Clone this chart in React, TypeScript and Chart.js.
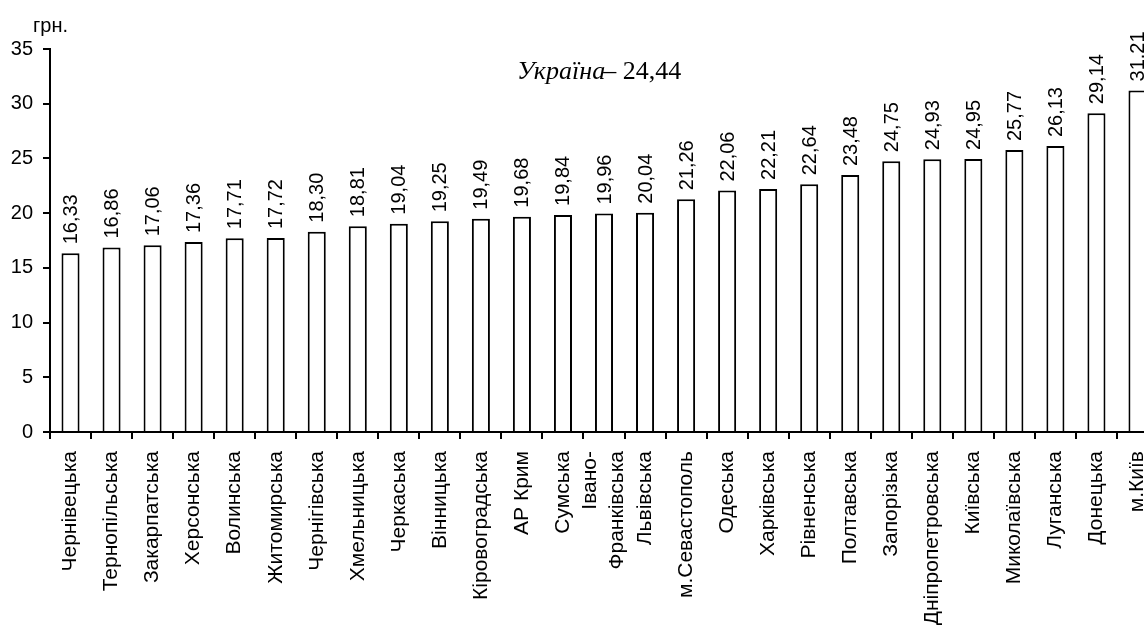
import React, { useEffect, useRef } from "react";
import { Chart, registerables } from "chart.js";

Chart.register(...registerables);

const categories: (string | string[])[] = [
  "Чернівецька", "Тернопільська", "Закарпатська", "Херсонська", "Волинська",
  "Житомирська", "Чернігівська", "Хмельницька", "Черкаська", "Вінницька",
  "Кіровоградська", "АР Крим", "Сумська", ["Івано-", "Франківська"], "Львівська",
  "м.Севастополь", "Одеська", "Харківська", "Рівненська", "Полтавська",
  "Запорізька", "Дніпропетровська", "Київська", "Миколаївська", "Луганська",
  "Донецька", "м.Київ",
];

const values: number[] = [
  16.33, 16.86, 17.06, 17.36, 17.71, 17.72, 18.30, 18.81, 19.04, 19.25,
  19.49, 19.68, 19.84, 19.96, 20.04, 21.26, 22.06, 22.21, 22.64, 23.48,
  24.75, 24.93, 24.95, 25.77, 26.13, 29.14, 31.21,
];

const unitLabel = "грн.";
const countryLabel = "Україна";
const countryValue = "– 24,44";

const FONT = "'Liberation Sans', Arial, sans-serif";
const SERIF = "'Liberation Serif', 'Times New Roman', serif";
const X_FONT_SIZE = 21;
const X_LINE_HEIGHT = 1.3;

const fmt = (v: number) => v.toFixed(2).replace(".", ",");

const centerMultilinePlugin = {
  id: "centerMultiline",
  beforeDraw(chart: any) {
    const scale = chart.scales.x;
    if (!scale) return;
    const items = scale.getLabelItems(chart.chartArea);
    const lh = X_FONT_SIZE * X_LINE_HEIGHT;
    items.forEach((item: any) => {
      if (Array.isArray(item.label) && !item._centered) {
        item.options.translation[0] -= (lh * (item.label.length - 1)) / 2;
        item._centered = true;
      }
    });
  },
};

const annotatePlugin = {
  id: "annotate",
  afterDatasetsDraw(chart: any) {
    const ctx = chart.ctx as CanvasRenderingContext2D;
    const meta = chart.getDatasetMeta(0);
    ctx.save();
    ctx.fillStyle = "#000";
    ctx.font = `20px ${FONT}`;
    ctx.textAlign = "left";
    ctx.textBaseline = "middle";
    meta.data.forEach((bar: any, i: number) => {
      ctx.save();
      ctx.translate(bar.x + 1, bar.y - 9);
      ctx.rotate(-Math.PI / 2);
      ctx.fillText(fmt(values[i]), 0, 0);
      ctx.restore();
    });
    ctx.textBaseline = "alphabetic";
    ctx.font = `20px ${FONT}`;
    ctx.fillText(unitLabel, 33, 32);
    ctx.font = `italic 26px ${SERIF}`;
    const x0 = 517;
    ctx.fillText(countryLabel, x0, 79);
    const w = ctx.measureText(countryLabel).width;
    ctx.font = `26px ${SERIF}`;
    ctx.fillText(countryValue, x0 + w - 2, 79);
    ctx.restore();
  },
};

export default function App() {
  const ref = useRef<HTMLCanvasElement | null>(null);
  useEffect(() => {
    if (!ref.current) return;
    const chart = new Chart(ref.current, {
      type: "bar",
      data: {
        labels: categories,
        datasets: [
          {
            data: values,
            backgroundColor: "#ffffff",
            borderColor: "#000000",
            borderWidth: 2,
            barPercentage: 0.44,
            categoryPercentage: 1,
          },
        ],
      },
      options: {
        animation: false,
        responsive: false,
        maintainAspectRatio: false,
        devicePixelRatio: 1,
        layout: { padding: { top: 49, right: 7, left: 0, bottom: 0 } },
        plugins: {
          legend: { display: false },
          tooltip: { enabled: false },
          title: { display: false },
        },
        scales: {
          x: {
            offset: true,
            grid: {
              display: true,
              offset: true,
              drawOnChartArea: false,
              drawTicks: true,
              tickLength: 7,
              color: "#000",
              lineWidth: 2,
            },
            border: { display: true, color: "#000", width: 2 },
            ticks: {
              color: "#000",
              font: { family: FONT, size: X_FONT_SIZE, lineHeight: X_LINE_HEIGHT },
              maxRotation: 90,
              minRotation: 90,
              autoSkip: false,
              padding: 12,
            },
            afterFit: (scale: any) => {
              scale.height = 203;
              scale.paddingLeft = 0;
              scale.paddingRight = 0;
            },
          },
          y: {
            min: 0,
            max: 35,
            ticks: {
              stepSize: 5,
              color: "#000",
              font: { family: FONT, size: 20 },
              padding: 10,
            },
            grid: {
              display: true,
              drawOnChartArea: false,
              drawTicks: true,
              tickLength: 7,
              color: "#000",
              lineWidth: 2,
            },
            border: { display: true, color: "#000", width: 2 },
            afterFit: (scale: any) => {
              scale.width = 50;
            },
          },
        },
      },
      plugins: [centerMultilinePlugin, annotatePlugin],
    });
    return () => chart.destroy();
  }, []);

  return (
    <div
      style={{
        position: "absolute",
        left: 0,
        top: 0,
        width: 1144,
        height: 635,
        overflow: "hidden",
        background: "#fff",
      }}
    >
      <canvas
        ref={ref}
        width={1165}
        height={635}
        style={{ display: "block", width: 1165, height: 635 }}
      />
    </div>
  );
}
